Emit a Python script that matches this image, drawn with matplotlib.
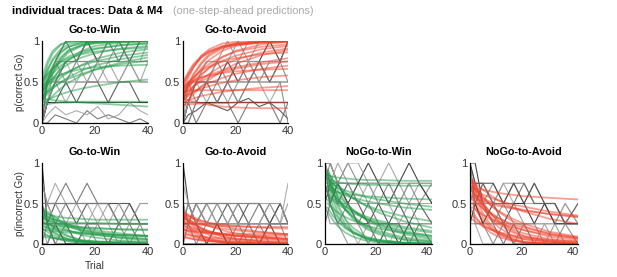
import numpy as np
import matplotlib
matplotlib.use('Agg')
import matplotlib.pyplot as plt

plt.rcParams['font.family'] = ['Liberation Sans', 'DejaVu Sans']

# trial positions where each trace is sampled
t_model_go = [0, 2, 4, 7, 10, 15, 20, 30, 40]
t_data_go = [0, 2, 5, 9, 13, 17, 21, 25, 29, 33, 37, 40]
t_model_nogo = [1, 3, 5, 8, 11, 16, 21, 31, 42]
t_data_nogo = [0, 2, 5, 9, 13, 17, 21, 25, 29, 33, 37, 42]

# values in percent (model = M4 one-step-ahead predictions, data = subjects)
gw_correct_model = [
    [45, 70, 85, 95, 99, 100, 100, 100, 100],
    [40, 62, 78, 90, 96, 99, 100, 100, 100],
    [35, 55, 70, 85, 93, 98, 99, 100, 100],
    [30, 48, 62, 78, 88, 95, 98, 100, 100],
    [50, 65, 76, 87, 93, 97, 99, 100, 100],
    [55, 75, 88, 96, 99, 100, 100, 100, 100],
    [36, 52, 66, 80, 89, 95, 98, 99, 100],
    [26, 45, 60, 76, 86, 94, 97, 99, 100],
    [25, 40, 52, 67, 77, 88, 94, 98, 99],
    [48, 58, 66, 74, 79, 84, 87, 90, 92],
    [42, 52, 60, 70, 77, 85, 90, 95, 97],
    [38, 47, 55, 65, 72, 80, 85, 91, 94],
    [30, 38, 45, 55, 62, 71, 78, 86, 90],
    [20, 27, 33, 42, 49, 58, 65, 74, 80],
    [28, 35, 42, 50, 56, 64, 70, 78, 83],
    [33, 38, 43, 49, 54, 60, 65, 72, 76],
    [45, 50, 54, 59, 62, 66, 68, 70, 71],
    [25, 28, 31, 35, 38, 42, 45, 50, 53],
    [22, 23, 24, 25, 25, 26, 26, 26, 26],
    [30, 29, 28, 27, 26, 25, 24, 22, 20],
    [52, 60, 67, 75, 81, 87, 91, 95, 97],
    [40, 46, 51, 58, 63, 70, 75, 82, 86],
]
gw_correct_data = [
    [0, 25, 50, 75, 75, 100, 75, 100, 100, 75, 100, 100],
    [0, 25, 50, 50, 75, 75, 50, 75, 100, 75, 75, 75],
    [25, 25, 50, 25, 50, 50, 75, 50, 50, 75, 50, 50],
    [0, 0, 10, 5, 0, 15, 5, 10, 5, 0, 5, 0],
    [0, 50, 75, 100, 100, 100, 100, 100, 100, 100, 100, 100],
    [25, 50, 50, 75, 75, 75, 75, 75, 75, 75, 75, 75],
    [0, 25, 25, 50, 25, 50, 50, 25, 50, 50, 25, 25],
    [0, 25, 75, 75, 50, 75, 75, 100, 75, 75, 75, 100],
    [0, 25, 25, 25, 25, 25, 25, 25, 25, 25, 25, 25],
    [0, 25, 50, 50, 50, 50, 50, 50, 50, 50, 50, 50],
    [0, 10, 20, 10, 15, 10, 20, 5, 10, 25, 15, 10],
    [0, 50, 75, 100, 75, 100, 75, 75, 75, 100, 100, 100],
    [25, 50, 75, 50, 75, 50, 75, 75, 50, 75, 50, 75],
    [0, 25, 50, 75, 75, 100, 100, 100, 75, 100, 100, 100],
]

ga_correct_model = [
    [40, 55, 68, 82, 90, 97, 99, 100, 100],
    [35, 48, 60, 74, 84, 93, 97, 100, 100],
    [30, 42, 53, 67, 77, 88, 94, 99, 100],
    [45, 58, 68, 80, 87, 94, 97, 99, 100],
    [25, 35, 45, 58, 68, 80, 88, 96, 99],
    [50, 62, 72, 82, 88, 93, 96, 98, 99],
    [38, 47, 55, 65, 72, 81, 87, 93, 96],
    [30, 37, 44, 53, 60, 70, 77, 86, 91],
    [42, 50, 56, 64, 69, 75, 79, 84, 86],
    [20, 28, 35, 45, 53, 64, 72, 83, 89],
    [35, 40, 45, 51, 56, 62, 66, 72, 75],
    [28, 33, 38, 44, 49, 55, 60, 66, 70],
    [45, 49, 52, 56, 58, 61, 63, 65, 66],
    [32, 35, 38, 42, 45, 49, 52, 56, 58],
    [25, 28, 30, 33, 35, 38, 40, 43, 45],
    [38, 39, 40, 40, 40, 40, 40, 40, 40],
    [22, 23, 23, 24, 24, 24, 25, 25, 25],
    [30, 28, 26, 24, 22, 20, 19, 18, 18],
    [48, 60, 70, 80, 86, 92, 95, 98, 99],
    [33, 46, 58, 72, 82, 91, 96, 99, 100],
    [42, 46, 50, 55, 59, 64, 68, 74, 79],
    [36, 44, 51, 60, 67, 76, 82, 90, 94],
]
ga_correct_data = [
    [0, 25, 25, 50, 50, 75, 50, 75, 75, 100, 75, 100],
    [0, 0, 25, 25, 50, 25, 50, 50, 75, 50, 75, 75],
    [25, 25, 50, 25, 25, 50, 25, 50, 50, 25, 50, 50],
    [0, 25, 0, 25, 25, 25, 0, 25, 25, 25, 0, 25],
    [0, 25, 50, 75, 75, 75, 100, 75, 100, 100, 100, 100],
    [25, 50, 25, 50, 75, 50, 75, 75, 50, 75, 75, 50],
    [0, 10, 15, 25, 20, 15, 25, 30, 20, 25, 15, 5],
    [0, 25, 50, 50, 75, 50, 50, 75, 50, 50, 75, 75],
    [0, 25, 25, 25, 25, 25, 25, 25, 25, 25, 25, 25],
    [0, 25, 50, 50, 50, 50, 50, 50, 50, 50, 50, 50],
    [0, 50, 50, 75, 75, 75, 75, 75, 75, 75, 75, 75],
    [25, 25, 50, 50, 25, 50, 75, 50, 75, 50, 75, 100],
    [0, 25, 25, 50, 75, 100, 75, 100, 100, 100, 100, 100],
    [0, 0, 25, 50, 25, 50, 25, 50, 75, 50, 50, 0],
]

gw_incorrect_model = [
    [45, 40, 35, 29, 24, 18, 14, 9, 6],
    [42, 35, 29, 22, 17, 11, 8, 4, 2],
    [40, 30, 23, 15, 10, 5, 3, 1, 0],
    [38, 34, 31, 27, 24, 20, 17, 13, 10],
    [35, 27, 20, 13, 9, 4, 2, 1, 0],
    [32, 29, 27, 25, 23, 21, 20, 18, 17],
    [30, 22, 16, 10, 6, 3, 1, 0, 0],
    [28, 25, 22, 19, 16, 13, 11, 8, 6],
    [25, 19, 14, 9, 6, 3, 1, 0, 0],
    [22, 20, 19, 17, 16, 14, 13, 11, 10],
    [20, 15, 11, 7, 4, 2, 1, 0, 0],
    [35, 32, 30, 28, 27, 26, 26, 25, 25],
    [18, 17, 16, 15, 14, 13, 12, 11, 10],
    [15, 11, 8, 5, 3, 1, 0, 0, 0],
    [12, 10, 8, 6, 5, 4, 3, 2, 1],
    [40, 37, 35, 33, 32, 31, 30, 30, 30],
    [26, 24, 23, 22, 21, 20, 19, 18, 18],
    [10, 8, 7, 6, 5, 4, 3, 3, 2],
    [44, 38, 33, 27, 22, 16, 12, 7, 4],
    [33, 30, 27, 24, 21, 17, 15, 11, 9],
]
gw_incorrect_data = [
    [100, 25, 0, 0, 0, 0, 0, 0, 0, 0, 0, 0],
    [75, 50, 50, 25, 25, 25, 25, 25, 25, 25, 25, 25],
    [50, 50, 75, 50, 50, 50, 25, 50, 25, 25, 25, 25],
    [25, 50, 50, 75, 50, 75, 50, 50, 25, 50, 25, 25],
    [50, 25, 25, 50, 50, 50, 50, 50, 50, 25, 50, 50],
    [0, 25, 0, 25, 0, 25, 0, 0, 25, 0, 25, 0],
    [25, 25, 50, 50, 25, 50, 50, 50, 50, 50, 25, 25],
    [50, 50, 50, 25, 50, 25, 25, 25, 25, 25, 25, 25],
    [0, 0, 25, 0, 0, 0, 0, 0, 0, 0, 0, 0],
    [75, 50, 25, 25, 25, 25, 25, 25, 25, 25, 25, 25],
    [25, 50, 25, 50, 50, 25, 50, 25, 50, 25, 50, 50],
    [50, 25, 25, 25, 0, 25, 25, 0, 25, 25, 0, 0],
    [25, 0, 25, 25, 25, 0, 25, 25, 0, 25, 25, 25],
    [50, 50, 50, 50, 50, 50, 50, 50, 25, 25, 25, 25],
]

ga_incorrect_model = [
    [40, 35, 31, 26, 22, 17, 13, 9, 6],
    [38, 32, 26, 20, 15, 10, 7, 3, 2],
    [35, 28, 22, 15, 11, 6, 4, 1, 0],
    [32, 29, 27, 24, 22, 19, 17, 14, 12],
    [30, 23, 17, 11, 7, 4, 2, 1, 0],
    [28, 26, 25, 24, 23, 22, 22, 21, 21],
    [25, 19, 14, 9, 6, 3, 1, 0, 0],
    [22, 20, 18, 16, 14, 12, 10, 8, 6],
    [20, 15, 11, 7, 5, 2, 1, 0, 0],
    [18, 17, 16, 15, 14, 13, 13, 12, 12],
    [15, 12, 9, 6, 4, 2, 1, 0, 0],
    [38, 34, 31, 28, 26, 24, 22, 20, 19],
    [12, 11, 10, 9, 8, 7, 6, 5, 4],
    [26, 23, 20, 17, 15, 12, 10, 8, 7],
    [10, 8, 6, 4, 3, 2, 1, 0, 0],
    [33, 28, 24, 19, 16, 12, 10, 7, 5],
    [17, 16, 15, 14, 13, 12, 11, 10, 10],
    [8, 7, 6, 5, 4, 3, 3, 2, 2],
    [40, 36, 33, 29, 26, 22, 19, 15, 12],
    [36, 30, 25, 19, 14, 9, 6, 3, 1],
]
ga_incorrect_data = [
    [100, 50, 25, 0, 0, 0, 0, 0, 0, 0, 0, 0],
    [50, 50, 25, 50, 25, 25, 25, 25, 25, 25, 25, 25],
    [50, 25, 50, 50, 50, 50, 50, 25, 25, 50, 25, 25],
    [25, 50, 25, 50, 50, 25, 50, 25, 50, 25, 50, 25],
    [50, 25, 25, 25, 25, 25, 25, 25, 25, 25, 25, 25],
    [0, 25, 0, 25, 25, 0, 25, 0, 25, 0, 0, 0],
    [25, 25, 50, 25, 25, 50, 25, 50, 50, 25, 50, 25],
    [75, 50, 25, 25, 25, 25, 25, 25, 25, 25, 25, 25],
    [0, 0, 0, 0, 25, 0, 0, 0, 0, 25, 0, 0],
    [25, 50, 25, 25, 50, 50, 25, 25, 25, 50, 50, 25],
    [50, 25, 50, 25, 50, 25, 50, 50, 50, 50, 25, 75],
    [25, 25, 25, 0, 25, 25, 0, 25, 0, 25, 25, 25],
    [0, 25, 25, 50, 25, 25, 25, 25, 25, 25, 25, 50],
    [50, 50, 50, 50, 50, 50, 50, 50, 50, 25, 25, 0],
]

ngw_incorrect_model = [
    [90, 72, 58, 42, 31, 19, 12, 5, 2],
    [85, 62, 46, 30, 20, 9, 5, 1, 0],
    [80, 70, 61, 50, 42, 31, 24, 14, 8],
    [75, 55, 40, 25, 16, 7, 3, 1, 0],
    [88, 80, 73, 64, 57, 47, 39, 28, 20],
    [70, 62, 55, 47, 40, 31, 25, 16, 10],
    [65, 48, 35, 22, 14, 6, 3, 1, 0],
    [82, 75, 69, 62, 56, 48, 42, 34, 28],
    [60, 54, 49, 43, 38, 32, 27, 19, 14],
    [78, 74, 70, 66, 63, 58, 55, 50, 46],
    [55, 42, 32, 21, 14, 7, 4, 1, 0],
    [72, 68, 64, 60, 57, 53, 50, 45, 42],
    [85, 83, 82, 81, 80, 79, 79, 78, 78],
    [50, 44, 39, 33, 29, 23, 19, 14, 10],
    [68, 66, 64, 62, 61, 59, 58, 56, 55],
    [45, 35, 28, 19, 14, 8, 5, 2, 1],
    [80, 78, 76, 75, 74, 73, 73, 72, 72],
    [62, 57, 52, 46, 41, 34, 29, 21, 16],
    [40, 30, 22, 14, 9, 4, 2, 1, 0],
    [92, 78, 66, 52, 42, 30, 22, 12, 6],
    [86, 70, 57, 43, 33, 21, 14, 6, 3],
    [76, 64, 54, 42, 34, 23, 16, 8, 4],
]
ngw_incorrect_data = [
    [100, 100, 75, 50, 25, 25, 0, 25, 0, 25, 0, 0],
    [100, 75, 75, 75, 75, 75, 75, 75, 75, 75, 75, 75],
    [75, 75, 50, 50, 50, 50, 50, 50, 50, 50, 50, 50],
    [100, 50, 25, 25, 25, 25, 25, 25, 25, 25, 25, 25],
    [100, 75, 100, 75, 75, 50, 75, 100, 75, 50, 75, 50],
    [75, 100, 75, 100, 75, 75, 50, 75, 50, 75, 50, 75],
    [50, 75, 50, 75, 50, 25, 50, 25, 50, 25, 50, 25],
    [100, 75, 50, 25, 0, 25, 0, 0, 25, 0, 0, 0],
    [75, 50, 75, 50, 75, 100, 75, 50, 75, 100, 75, 50],
    [50, 25, 25, 0, 0, 0, 0, 0, 0, 0, 0, 0],
    [100, 100, 75, 75, 50, 75, 50, 50, 25, 50, 25, 25],
    [25, 50, 75, 50, 25, 50, 25, 25, 25, 0, 25, 0],
    [100, 75, 75, 100, 100, 75, 75, 75, 50, 75, 75, 75],
    [75, 50, 25, 50, 25, 0, 25, 0, 0, 0, 0, 0],
]

nga_incorrect_model = [
    [80, 65, 52, 38, 28, 17, 10, 4, 1],
    [75, 58, 45, 31, 21, 11, 6, 2, 0],
    [72, 64, 57, 48, 41, 32, 25, 15, 9],
    [70, 52, 38, 24, 15, 7, 3, 1, 0],
    [78, 72, 67, 60, 54, 46, 40, 31, 25],
    [65, 56, 48, 39, 32, 23, 17, 9, 5],
    [60, 45, 33, 21, 13, 6, 2, 0, 0],
    [68, 64, 61, 57, 54, 49, 46, 40, 35],
    [55, 49, 44, 37, 32, 25, 20, 13, 8],
    [70, 68, 67, 65, 63, 61, 59, 57, 55],
    [50, 38, 29, 19, 12, 5, 2, 0, 0],
    [62, 59, 56, 52, 49, 45, 42, 37, 33],
    [45, 40, 36, 31, 27, 21, 17, 11, 7],
    [40, 30, 22, 14, 9, 4, 2, 0, 0],
    [58, 55, 53, 50, 47, 44, 41, 37, 34],
    [35, 29, 24, 18, 14, 9, 6, 3, 1],
    [74, 60, 49, 37, 29, 19, 13, 6, 3],
    [30, 26, 22, 18, 15, 11, 8, 5, 3],
    [66, 54, 44, 33, 25, 15, 9, 3, 1],
    [78, 68, 59, 48, 40, 29, 22, 12, 7],
]
nga_incorrect_data = [
    [100, 100, 50, 25, 25, 0, 0, 0, 0, 0, 0, 0],
    [100, 75, 50, 50, 50, 50, 25, 25, 25, 25, 25, 25],
    [75, 75, 75, 50, 75, 50, 50, 50, 50, 25, 50, 25],
    [100, 50, 25, 25, 0, 25, 0, 0, 0, 0, 0, 0],
    [75, 50, 75, 50, 75, 75, 50, 75, 50, 25, 50, 25],
    [50, 75, 50, 75, 50, 75, 75, 50, 50, 50, 25, 50],
    [100, 75, 75, 75, 50, 75, 50, 75, 50, 50, 25, 25],
    [50, 25, 25, 25, 25, 25, 25, 25, 25, 25, 25, 25],
    [25, 50, 25, 50, 25, 50, 50, 25, 50, 25, 25, 25],
    [75, 50, 50, 25, 50, 25, 25, 25, 0, 25, 0, 0],
    [100, 25, 0, 0, 0, 0, 0, 0, 0, 0, 0, 0],
    [50, 50, 75, 50, 50, 50, 75, 50, 50, 50, 25, 50],
    [75, 75, 50, 50, 25, 25, 25, 0, 25, 0, 0, 0],
    [25, 25, 25, 0, 25, 0, 25, 0, 0, 0, 25, 0],
]

GREEN = '#1f9c48'
RED = '#f0402a'
GRAYS = ['0.15', '0.55', '0.62', '0.4', '0.6', '0.5', '0.25', '0.65']

W, H = 617, 277
fig = plt.figure(figsize=(W / 100, H / 100), dpi=100)


def panel(x0, x1, ytop, ybot, xmax, title, t_data, data, t_model, model, color):
    ax = fig.add_axes([x0 / W, 1 - ybot / H, (x1 - x0) / W, (ybot - ytop) / H])
    for i, tr in enumerate(data):
        ax.plot(t_data, np.array(tr) / 100, color=GRAYS[i % len(GRAYS)], lw=0.8, alpha=0.85)
    for tr in model:
        ax.plot(t_model, np.array(tr) / 100, color=color, lw=1.3, alpha=0.5)
    ax.set_xlim(0, xmax)
    ax.set_ylim(0, 1)
    ax.set_xticks([0, 20, 40])
    ax.set_yticks([0, 0.5, 1])
    ax.set_yticklabels(['0', '0.5', '1'])
    for s in ['top', 'right']:
        ax.spines[s].set_visible(False)
    for s in ['left', 'bottom']:
        ax.spines[s].set_linewidth(0.9)
    ax.tick_params(length=0, pad=2, labelsize=8, labelcolor='#333333')
    ax.set_title(title, fontsize=7.8, fontweight='bold', pad=6)
    return ax


a1 = panel(42, 148, 41, 123, 40, 'Go-to-Win', t_data_go, gw_correct_data,
           t_model_go, gw_correct_model, GREEN)
a1.set_ylabel('p(correct Go)', fontsize=7, color='#333333', labelpad=-1)
panel(183, 288, 41, 123, 40, 'Go-to-Avoid', t_data_go, ga_correct_data,
      t_model_go, ga_correct_model, RED)

b1 = panel(42, 148, 163, 244, 40, 'Go-to-Win', t_data_go, gw_incorrect_data,
           t_model_go, gw_incorrect_model, GREEN)
b1.set_ylabel('p(incorrect Go)', fontsize=7, color='#333333', labelpad=-1)
b1.set_xlabel('Trial', fontsize=7.5, color='#333333', labelpad=3)
panel(183, 288, 163, 244, 40, 'Go-to-Avoid', t_data_go, ga_incorrect_data,
      t_model_go, ga_incorrect_model, RED)
panel(325, 432, 163, 244, 42, 'NoGo-to-Win', t_data_nogo, ngw_incorrect_data,
      t_model_nogo, ngw_incorrect_model, GREEN)
panel(470, 578, 163, 244, 42, 'NoGo-to-Avoid', t_data_nogo, nga_incorrect_data,
      t_model_nogo, nga_incorrect_model, RED)

fig.text(12 / W, 1 - 11 / H, 'individual traces: Data & M4', fontsize=8.1,
         fontweight='bold', va='center', ha='left')
fig.text(173 / W, 1 - 11 / H, '(one-step-ahead predictions)', fontsize=7.8,
         color='#a8a8a8', va='center', ha='left')

fig.savefig('out.png', dpi=100)
